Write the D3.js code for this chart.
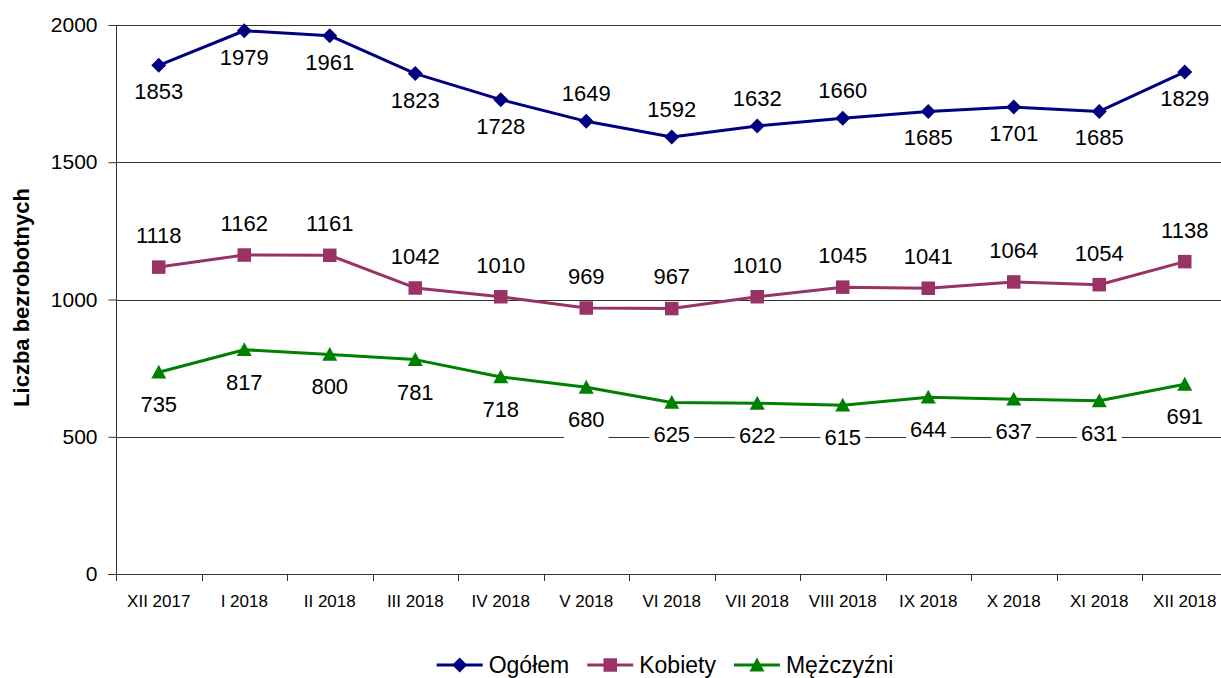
<!DOCTYPE html>
<html>
<head>
<meta charset="utf-8">
<script src="https://cdn.jsdelivr.net/npm/d3@7"></script>
<style>
  html, body { margin: 0; padding: 0; background: #fff; }
  svg { display: block; font-family: "Liberation Sans", Arial, Helvetica, sans-serif; }
</style>
</head>
<body>
<svg id="chart" width="1221" height="678"></svg>
<script>
// ---- Data ----
const categories = ["XII 2017", "I 2018", "II 2018", "III 2018", "IV 2018", "V 2018", "VI 2018",
                    "VII 2018", "VIII 2018", "IX 2018", "X 2018", "XI 2018", "XII 2018"];
const ogolem    = [1853, 1979, 1961, 1823, 1728, 1649, 1592, 1632, 1660, 1685, 1701, 1685, 1829];
const kobiety   = [1118, 1162, 1161, 1042, 1010, 969, 967, 1010, 1045, 1041, 1064, 1054, 1138];
const mezczyzni = [735, 817, 800, 781, 718, 680, 625, 622, 615, 644, 637, 631, 691];
const yTicks = [0, 500, 1000, 1500, 2000];
const seriesNames = ["Ogółem", "Kobiety", "Mężczyźni"];
const yTitle = "Liczba bezrobotnych";

// label placement per point (style, not data)
const ogolemPlace = ["b","b","b","b","b","a","a","a","a","b","b","b","b"];

// ---- Layout ----
const svg = d3.select("#chart");
const plot = { left: 116, right: 1227.5, top: 25, bottom: 574 };

const x = d3.scaleBand().domain(categories).range([plot.left, plot.right]).padding(0);
const y = d3.scaleLinear().domain([0, 2000]).range([plot.bottom, plot.top]);
const cx = d => x(d) + x.bandwidth() / 2;

const series = [
  { name: seriesNames[0], values: ogolem,    color: "#000080", marker: "diamond",  place: ogolemPlace },
  { name: seriesNames[1], values: kobiety,   color: "#993366", marker: "square",   place: categories.map(() => "a") },
  { name: seriesNames[2], values: mezczyzni, color: "#008000", marker: "triangle", place: categories.map(() => "b") }
];
const offsets = { a: [-28, -32, -32], b: [26, 28, 32] };

// gridlines
svg.append("g").selectAll("line").data(yTicks.filter(t => t > 0)).join("line")
  .attr("x1", plot.left).attr("x2", 1221)
  .attr("y1", d => Math.round(y(d)) + 0.5).attr("y2", d => Math.round(y(d)) + 0.5)
  .attr("stroke", "#333").attr("stroke-width", 1);

// y axis
const yAxis = svg.append("g").attr("transform", `translate(${plot.left + 0.5},0)`)
  .call(d3.axisLeft(y).tickValues(yTicks).tickSize(8).tickPadding(11).tickFormat(d3.format("d")));
yAxis.select(".domain").attr("stroke", "#333").attr("d", `M0,${plot.top}V${plot.bottom + 0.5}`);
yAxis.selectAll(".tick line").attr("stroke", "#333");
yAxis.selectAll(".tick text").attr("font-size", 21).attr("fill", "#000")
  .attr("font-family", "Liberation Sans, Arial, sans-serif");

// x axis
const xAxis = svg.append("g").attr("transform", `translate(0,${plot.bottom + 0.5})`)
  .call(d3.axisBottom(x).tickSize(0).tickPadding(20));
xAxis.select(".domain").attr("stroke", "#333").attr("d", `M${plot.left - 8},0H1221`);
xAxis.selectAll(".tick text").attr("font-size", 17).attr("fill", "#000")
  .attr("font-family", "Liberation Sans, Arial, sans-serif");
// x tick marks at band boundaries
svg.append("g").selectAll("line").data(categories).join("line")
  .attr("x1", d => Math.round(x(d)) + 0.5).attr("x2", d => Math.round(x(d)) + 0.5)
  .attr("y1", plot.bottom).attr("y2", plot.bottom + 7)
  .attr("stroke", "#333");

// y title
svg.append("text")
  .attr("transform", `translate(29,${(plot.top + plot.bottom) / 2 - 2}) rotate(-90)`)
  .attr("text-anchor", "middle")
  .attr("font-size", 22).attr("font-weight", "bold").attr("fill", "#000")
  .text(yTitle);

// marker path generator
function markerPath(type, s) {
  if (type === "diamond") return `M0,${-s}L${s},0L0,${s}L${-s},0Z`;
  if (type === "square") return `M${-s * 0.9},${-s * 0.9}H${s * 0.9}V${s * 0.9}H${-s * 0.9}Z`;
  return `M0,${-s}L${s},${s * 0.85}L${-s},${s * 0.85}Z`;
}

// lines + markers
const line = d3.line().x((d, i) => cx(categories[i])).y(d => y(d));
series.forEach(s => {
  svg.append("path").datum(s.values)
    .attr("d", line).attr("fill", "none")
    .attr("stroke", s.color).attr("stroke-width", 3).attr("stroke-linejoin", "round");
  svg.append("g").selectAll("path").data(s.values).join("path")
    .attr("transform", (d, i) => `translate(${cx(categories[i])},${y(d)})`)
    .attr("d", markerPath(s.marker, 7.5))
    .attr("fill", s.color);
});

// data labels with white background
const labelFont = 22;
series.forEach((s, si) => {
  const g = svg.append("g");
  s.values.forEach((v, i) => {
    const px = cx(categories[i]);
    const py = y(v);
    const centerY = py + offsets[s.place[i]][si];
    const lg = g.append("g");
    const rect = lg.append("rect").attr("fill", "#fff");
    const t = lg.append("text")
      .attr("x", px).attr("y", centerY + labelFont * 0.36)
      .attr("text-anchor", "middle").attr("font-size", labelFont).attr("fill", "#000")
      .text(v);
    const w = t.node().getComputedTextLength();
    rect.attr("x", px - w / 2 - 4).attr("y", centerY - 11).attr("width", w + 8).attr("height", 30);
  });
});

// legend
const legend = svg.append("g");
const legY = 665;
let items = [];
series.forEach((s, i) => {
  const g = legend.append("g");
  g.append("line").attr("x1", 0).attr("x2", 46).attr("y1", legY).attr("y2", legY)
    .attr("stroke", s.color).attr("stroke-width", 3);
  g.append("path").attr("transform", `translate(23,${legY})`).attr("d", markerPath(s.marker, 7.5)).attr("fill", s.color);
  const t = g.append("text").attr("x", 52).attr("y", legY + 8).attr("font-size", 23).attr("fill", "#000").text(s.name);
  const w = 52 + t.node().getComputedTextLength();
  items.push({ g, w });
});
const gap = 18;
const total = d3.sum(items, d => d.w) + gap * (items.length - 1);
let start = 665 - total / 2;
items.forEach(it => {
  it.g.attr("transform", `translate(${start},0)`);
  start += it.w + gap;
});
</script>
</body>
</html>
